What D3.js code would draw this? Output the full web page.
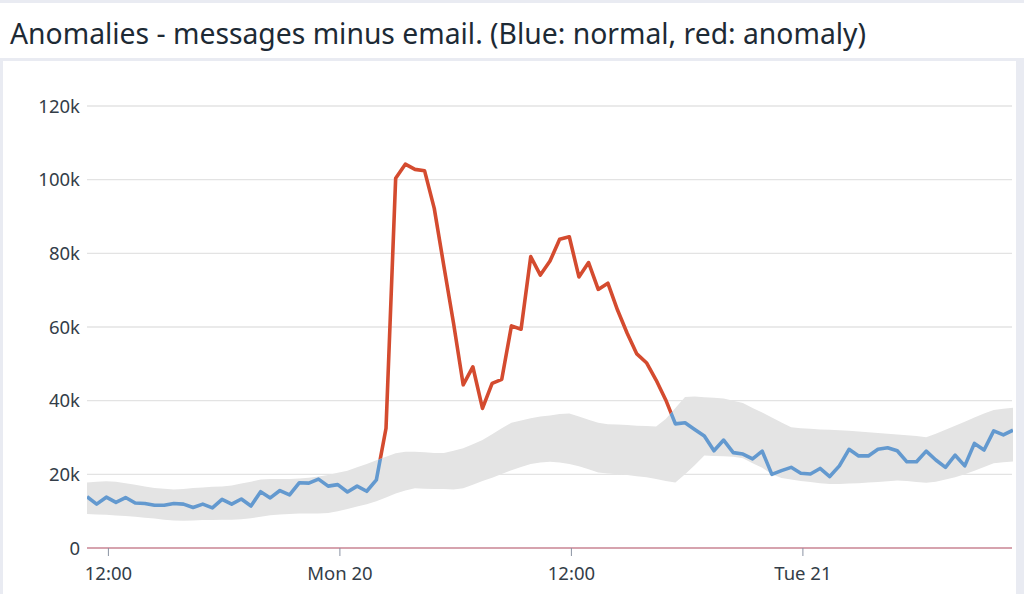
<!DOCTYPE html>
<html><head><meta charset="utf-8">
<script src="https://cdn.jsdelivr.net/npm/d3@7"></script>
<style>
html,body{margin:0;padding:0;background:#fff;}
svg{display:block;font-family:"Noto Sans",sans-serif;}
</style></head>
<body>
<svg id="c" width="1024" height="594"></svg>
<script>
// ---- data (values in thousands, every 30 minutes from Sun 19 10:55) ----
const startTime = new Date(2020, 3, 19, 10, 55);
const stepMinutes = 30;
const values = [13.9,11.9,13.8,12.4,13.7,12.2,12.1,11.6,11.6,12.1,
  11.9,11.0,11.9,10.9,13.2,11.9,13.3,11.4,15.3,13.6,
  15.6,14.4,17.7,17.6,18.7,16.8,17.2,15.2,16.8,15.4,
  18.5,32.5,100.4,104.2,102.8,102.4,92.2,76.5,61.0,44.3,
  49.2,37.9,44.7,45.8,60.3,59.4,79.1,74.1,77.9,83.8,
  84.5,73.6,77.5,70.2,71.9,64.6,58.3,52.7,50.3,45.6,
  40.2,33.7,34.0,32.2,30.4,26.4,29.3,25.9,25.5,24.2,
  26.3,20.0,21.0,21.9,20.3,20.1,21.6,19.4,22.3,26.8,
  25.0,25.0,26.8,27.2,26.4,23.4,23.4,26.3,23.9,21.9,
  25.2,22.3,28.4,26.6,31.8,30.7,32.0];
const upperBound = [17.8,18.0,18.1,18.0,17.6,17.2,16.7,16.3,16.1,15.9,
  16.0,16.3,16.4,16.6,16.7,17.0,17.5,18.0,18.6,18.7,
  18.7,18.7,18.9,19.1,19.4,19.8,20.4,21.0,21.9,22.8,
  23.8,24.8,25.7,26.1,26.1,26.0,25.8,25.8,26.4,27.1,
  28.2,29.3,30.9,32.5,34.0,34.6,35.2,35.7,36.0,36.4,
  36.5,35.7,34.8,34.0,33.6,33.5,33.4,33.2,33.1,33.0,
  35.0,38.0,41.0,41.1,40.9,40.8,40.6,40.0,39.4,38.0,
  36.8,35.4,34.1,32.8,32.5,32.4,32.2,32.1,32.0,31.8,
  31.6,31.4,31.2,31.0,30.8,30.6,30.4,30.1,31.0,32.1,
  33.2,34.3,35.4,36.5,37.5,37.8,38.1];
const lowerBound = [9.2,9.1,9.0,8.8,8.7,8.5,8.2,8.0,7.7,7.5,
  7.4,7.5,7.6,7.6,7.7,7.7,7.8,8.1,8.5,8.9,
  9.1,9.2,9.4,9.4,9.4,9.5,10.0,10.6,11.3,11.9,
  12.7,13.7,14.8,15.6,16.2,16.1,16.0,16.0,15.9,16.2,
  17.2,18.2,19.1,20.1,21.1,22.0,22.8,23.2,23.4,23.2,
  22.8,22.2,21.4,20.5,20.2,20.0,19.8,19.5,19.2,18.7,
  18.2,17.8,20.0,22.5,25.1,25.0,24.9,24.8,24.4,23.0,
  21.8,20.0,19.0,18.6,18.2,17.9,17.6,17.4,17.4,17.5,
  17.6,17.8,17.9,18.1,18.3,18.2,17.9,17.7,18.0,18.6,
  19.2,20.0,21.0,22.0,23.0,23.3,23.5];
const yTicks = [0, 20, 40, 60, 80, 100, 120];
const yTickLabels = ["0", "20k", "40k", "60k", "80k", "100k", "120k"];
const xTicks = [new Date(2020,3,19,12,0), new Date(2020,3,20,0,0), new Date(2020,3,20,12,0), new Date(2020,3,21,0,0)];
const xTickLabels = ["12:00", "Mon 20", "12:00", "Tue 21"];
const title = "Anomalies - messages minus email. (Blue: normal, red: anomaly)";

const data = values.map((v, i) => ({
  t: new Date(startTime.getTime() + i * stepMinutes * 60000),
  v: v, hi: upperBound[i], lo: lowerBound[i]
}));

const svg = d3.select("#c");
// frame
svg.append("rect").attr("x",0).attr("y",0).attr("width",1024).attr("height",594).attr("fill","#e9ebf2");
svg.append("rect").attr("x",0).attr("y",3).attr("width",1024).attr("height",55).attr("fill","#fff");
svg.append("rect").attr("x",3).attr("y",61).attr("width",1013).attr("height",533).attr("fill","#fff");

svg.append("text").attr("x",10).attr("y",44).attr("font-size",28.3).attr("fill","#1d2a35").text(title);

const x = d3.scaleTime().domain([data[0].t, data[data.length-1].t]).range([87, 1013]);
const y = d3.scaleLinear().domain([0, 120]).range([548, 106]);

// grid
const gridG = svg.append("g");
gridG.selectAll("line").data(yTicks.filter(d => d > 0)).join("line")
  .attr("x1", 87).attr("x2", 1012).attr("y1", d => y(d)).attr("y2", d => y(d))
  .attr("stroke", "#e3e3e3").attr("stroke-width", 1.3);

// y labels
svg.append("g").selectAll("text").data(yTicks).join("text")
  .attr("x", 80).attr("y", d => y(d) + 6.5).attr("text-anchor", "end")
  .attr("font-size", 18.5).attr("fill", "#333d48")
  .text((d, i) => yTickLabels[i]);

// band
const band = d3.area().x(d => x(d.t)).y0(d => y(d.lo)).y1(d => y(d.hi));
svg.append("path").datum(data).attr("d", band).attr("fill", "#e4e4e4");

// clip regions: above the upper bound = anomaly, below = normal
const defs = svg.append("defs");
defs.append("clipPath").attr("id","above").append("path").datum(data)
  .attr("d", d3.area().x(d => x(d.t)).y0(0).y1(d => y(d.hi)));
defs.append("clipPath").attr("id","below").append("path").datum(data)
  .attr("d", d3.area().x(d => x(d.t)).y0(d => y(d.hi)).y1(594));

const line = d3.line().x(d => x(d.t)).y(d => y(d.v));
svg.append("path").datum(data).attr("d", line).attr("fill","none")
  .attr("stroke","#6399cf").attr("stroke-width",3.6).attr("stroke-linejoin","round")
  .attr("clip-path","url(#below)");
svg.append("path").datum(data).attr("d", line).attr("fill","none")
  .attr("stroke","#d44b2f").attr("stroke-width",3.6).attr("stroke-linejoin","round")
  .attr("clip-path","url(#above)");

// x axis
svg.append("line").attr("x1",87).attr("x2",1012).attr("y1",y(0)).attr("y2",y(0))
  .attr("stroke","#c98593").attr("stroke-width",1.5);
const xAxis = d3.axisBottom(x).tickValues(xTicks).tickSize(8).tickPadding(11)
  .tickFormat((d, i) => xTickLabels[i]);
const xg = svg.append("g").attr("transform", `translate(0,${y(0)})`).call(xAxis);
xg.select(".domain").remove();
xg.selectAll(".tick line").attr("stroke", "#8a93a3");
xg.selectAll(".tick text").attr("font-size", 18.5).attr("fill", "#333d48")
  .attr("font-family", "Noto Sans, sans-serif");
</script>
</body></html>
